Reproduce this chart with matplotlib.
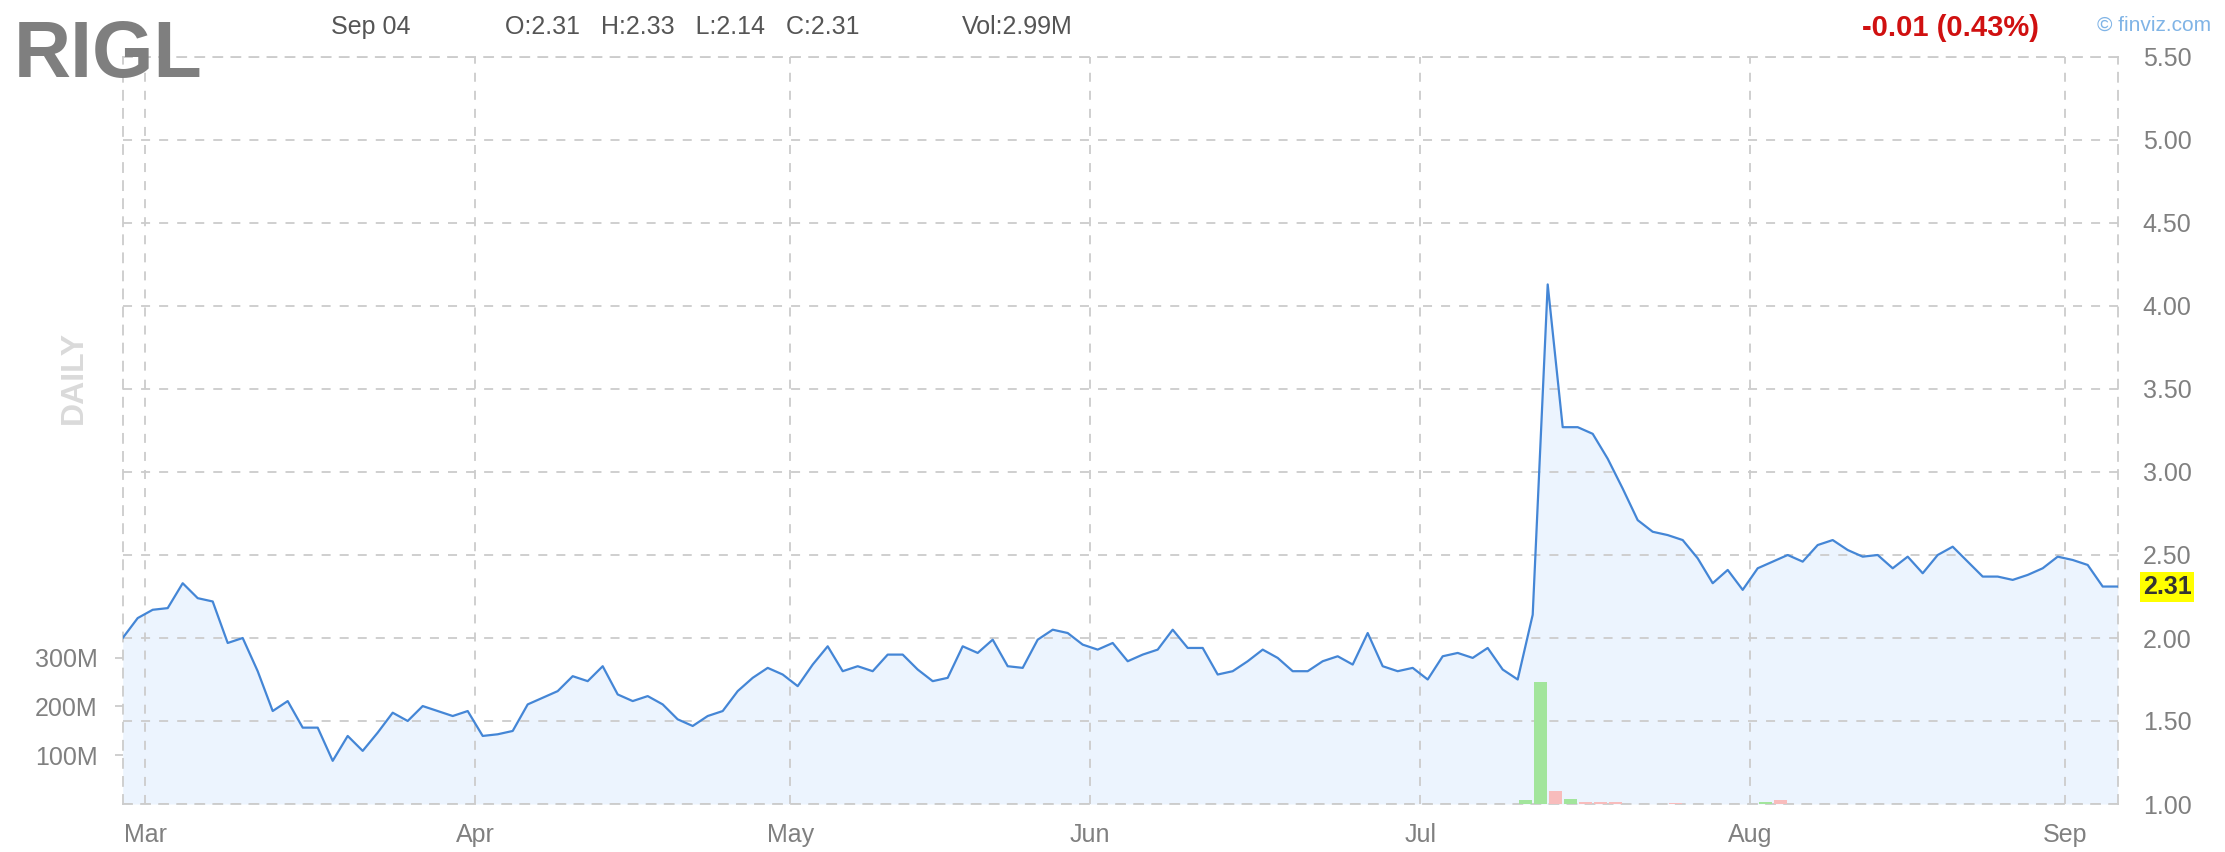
import numpy as np
import pandas as pd
import matplotlib
matplotlib.use('Agg')
import matplotlib.pyplot as plt

plt.rcParams['font.family'] = ['Liberation Sans', 'DejaVu Sans']

# daily closes, Feb 27 .. Sep 04 2020 (one per trading day)
START, END = '2020-02-27', '2020-09-04'
HOLIDAYS = ['2020-04-10', '2020-05-25', '2020-07-03']
close = [
    2.00, 2.12, 2.17, 2.18, 2.33, 2.24, 2.22, 1.97, 2.00, 1.80,
    1.56, 1.62, 1.46, 1.46, 1.26, 1.41, 1.32, 1.43, 1.55, 1.50,
    1.59, 1.56, 1.53, 1.56, 1.41, 1.42, 1.44, 1.60, 1.64, 1.68,
    1.77, 1.74, 1.83, 1.66, 1.62, 1.65, 1.60, 1.51, 1.47, 1.53,
    1.56, 1.68, 1.76, 1.82, 1.78, 1.71, 1.84, 1.95, 1.80, 1.83,
    1.80, 1.90, 1.90, 1.81, 1.74, 1.76, 1.95, 1.91, 1.99, 1.83,
    1.82, 1.99, 2.05, 2.03, 1.96, 1.93, 1.97, 1.86, 1.90, 1.93,
    2.05, 1.94, 1.94, 1.78, 1.80, 1.86, 1.93, 1.88, 1.80, 1.80,
    1.86, 1.89, 1.84, 2.03, 1.83, 1.80, 1.82, 1.75, 1.89, 1.91,
    1.88, 1.94, 1.81, 1.75, 2.14, 4.13, 3.27, 3.27, 3.23, 3.08,
    2.90, 2.71, 2.64, 2.62, 2.59, 2.48, 2.33, 2.41, 2.29, 2.42,
    2.46, 2.50, 2.46, 2.56, 2.59, 2.53, 2.49, 2.50, 2.42, 2.49,
    2.39, 2.50, 2.55, 2.46, 2.37, 2.37, 2.35, 2.38, 2.42, 2.49,
    2.47, 2.44, 2.31, 2.31,
]
# only the volume bars that show up on the chart (millions)
vol_day = ['2020-07-13', '2020-07-14', '2020-07-15', '2020-07-16', '2020-07-17',
           '2020-07-20', '2020-07-21', '2020-07-27', '2020-08-04', '2020-08-05']
vol_m = [8, 250, 27, 10, 4, 4, 4, 3, 4, 9]
vol_up = [True, True, False, True, False, False, False, False, True, False]

price_ticks = np.arange(1.0, 5.51, 0.5)
vol_ticks = [100, 200, 300]
vol_tick_labels = ['100M', '200M', '300M']
last_label = '2.31'

LINE = '#4486d6'
FILL = '#ecf4fe'
GRID = '#cccccc'
TXT = '#808080'
UP = '#a2e59c'
DOWN = '#f8bcbc'

dates = pd.bdate_range(START, END)
dates = dates[~dates.isin(pd.to_datetime(HOLIDAYS))]
assert len(dates) == len(close)
x = np.arange(len(dates))

W, H = 2225, 852
fig = plt.figure(figsize=(W / 100, H / 100), dpi=100)
ax = fig.add_axes([122.7 / W, 1 - 804 / H, 1995 / W, 747 / H])
# volume on its own scale, labels on the left
ax2 = ax.twinx()

ax.set_xlim(0, len(dates) - 1)
ax.set_ylim(1.0, 5.5)

ax.fill_between(x, close, 1.0, color=FILL, lw=0, zorder=1)
ax.plot(x, close, color=LINE, lw=1.6, zorder=5)

# month separators sit half a day before the first session of each month
months = pd.Series(x, index=dates).groupby(dates.to_period('M')).first()
months = months[months > 0]
ax.set_xticks(months.values - 0.5)
ax.set_xticklabels([p.strftime('%b') for p in months.index])
ax.set_yticks(price_ticks)
ax.set_yticklabels(['%.2f' % v for v in price_ticks])

dash = (0, (5, 5))
ax.grid(True, color=GRID, ls=dash, lw=1.3, zorder=0)
for s in ax.spines.values():
    s.set_color(GRID)
    s.set_linestyle(dash)
    s.set_linewidth(1.3)
ax.tick_params(axis='x', length=0, pad=14, labelsize=18, labelcolor=TXT)
ax.yaxis.tick_right()
ax.tick_params(axis='y', length=0, left=False, labelleft=False,
               labelright=True, pad=18, labelsize=18, labelcolor=TXT)

ax2.set_ylim(0, 1530)
vx = [x[dates.get_loc(pd.Timestamp(d))] - 0.5 for d in vol_day]
ax2.bar(vx, vol_m, width=0.85, color=[UP if u else DOWN for u in vol_up], zorder=3)
ax2.yaxis.tick_left()
ax2.set_yticks(vol_ticks)
ax2.set_yticklabels(vol_tick_labels)
ax2.tick_params(axis='y', length=6, width=1.3, color=GRID, pad=12,
                labelsize=18, labelcolor=TXT, right=False, labelright=False)
for s in ax2.spines.values():
    s.set_visible(False)

ax.text(1.0125, close[-1], last_label, transform=ax.get_yaxis_transform(),
        ha='left', va='center', fontsize=18, fontweight='bold', color='#333333',
        bbox=dict(boxstyle='square,pad=0.12', fc='#ffff00', ec='none'),
        clip_on=False, zorder=10)

def px(xp, yp):
    return xp / W, 1 - yp / H

fig.text(*px(14, 56), 'RIGL', fontsize=57, fontweight='bold', color='#7f7f7f',
         ha='left', va='center')
fig.text(*px(331, 27), 'Sep 04', fontsize=18, color='#555555', ha='left', va='center')
fig.text(*px(505, 27), 'O:2.31   H:2.33   L:2.14   C:2.31', fontsize=18,
         color='#555555', ha='left', va='center')
fig.text(*px(962, 27), 'Vol:2.99M', fontsize=18, color='#555555', ha='left', va='center')
fig.text(*px(2039, 28), '-0.01 (0.43%)', fontsize=21, fontweight='bold',
         color='#d01010', ha='right', va='center')
fig.text(*px(2211, 25), '\u00a9 finviz.com', fontsize=15, color='#80b4e6',
         ha='right', va='center')
fig.text(*px(74, 377), 'DAILY', fontsize=23, fontweight='bold', color='#dadada',
         rotation=90, ha='center', va='center')

fig.savefig('out.png', dpi=100)
